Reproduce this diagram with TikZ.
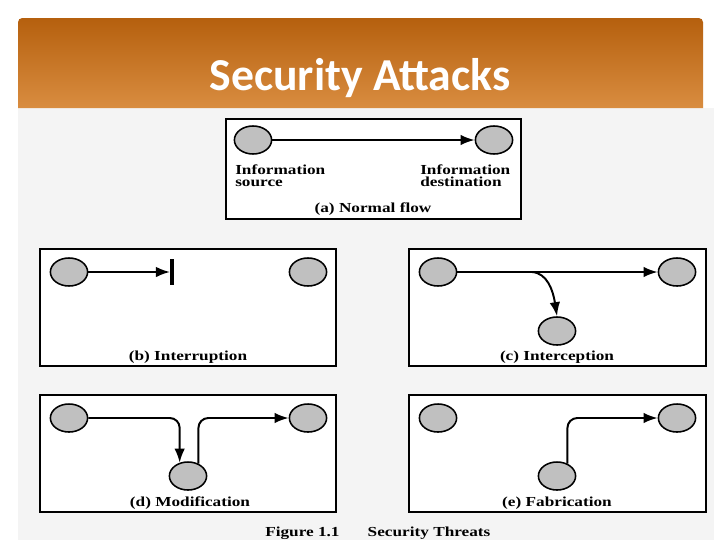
\documentclass[tikz,border=0pt]{standalone}
\usepackage{fontspec}
\setmainfont{Liberation Serif}
\newfontfamily\headfont{Carlito}
\newfontfamily\figfont[FakeStretch=1.25]{Liberation Serif}
\usetikzlibrary{arrows.meta,shapes.geometric}

\definecolor{hdtop}{HTML}{B5600E}
\definecolor{hdbot}{HTML}{D98D40}
\definecolor{slidegray}{HTML}{F4F4F4}
\definecolor{dotgray}{HTML}{C0C0C0}

\tikzset{
  station/.style={ellipse,draw,line width=1.1pt,fill=dotgray,
    minimum width=0.93cm,minimum height=0.7cm,inner sep=0pt},
  flow/.style={line width=1.4pt,-{Latex[length=10pt,width=7.5pt]}},
  panel/.style={draw,line width=1.3pt,fill=white},
  tag/.style={font=\figfont\bfseries\fontsize{9.8}{8.5}\selectfont,inner sep=0pt}
}

\begin{document}
\begin{tikzpicture}[x=0.025cm,y=-0.025cm]
  \useasboundingbox (0,0) rectangle (720,540);
  \fill[white] (0,0) rectangle (720,540);
  \fill[slidegray] (18,108) rectangle (714,540);
  \shade[top color=hdtop,bottom color=hdbot]
    (18,108) [rounded corners=3pt] -- (18,18) -- (703,18) [sharp corners] -- (703,108) -- cycle;
  \node[font=\headfont\bfseries\fontsize{32.5}{38}\selectfont,text=white,anchor=base]
    (title) at (360,90) {Security Attacks};

  % panels
  \draw[panel] (226,119) rectangle (521,219);
  \draw[panel] (40,249) rectangle (336,366);
  \draw[panel] (409,249) rectangle (706,366);
  \draw[panel] (40,395) rectangle (336,512);
  \draw[panel] (409,395) rectangle (706,512);

  % (a) normal flow
  \node[station] (srcA) at (253,140) {};
  \node[station] (dstA) at (494,140) {};
  \draw[flow] (srcA) -- (dstA);
  \node[tag,anchor=north west,align=left] (srcAtxt) at (235,165) {Information\\source};
  \node[tag,anchor=north west,align=left] (dstAtxt) at (420,165) {Information\\destination};
  \node[tag,anchor=base] (capA) at (373,212) {(a) Normal flow};

  % (b) interruption
  \node[station] (srcB) at (69,272) {};
  \node[station] (dstB) at (308,272) {};
  \coordinate (cutB) at (170,272);
  \draw[flow] (srcB) -- (cutB);
  \draw[line width=2.4pt] (172,259) -- (172,285);
  \node[tag,anchor=base] (capB) at (188,360) {(b) Interruption};

  % (c) interception
  \node[station] (srcC) at (438,272) {};
  \node[station] (dstC) at (677,272) {};
  \node[station] (spyC) at (557,331) {};
  \coordinate (tapC) at (532,272);
  \draw[flow] (srcC) -- (dstC);
  \draw[flow] (tapC) .. controls (547,273) and (553,290) .. (spyC.north);
  \node[tag,anchor=base] (capC) at (557,360) {(c) Interception};

  % (d) modification
  \node[station] (srcD) at (69,418) {};
  \node[station] (dstD) at (308,418) {};
  \node[station] (modD) at (188,476) {};
  \draw[flow,rounded corners=7pt] (srcD) -| (modD.122);
  \draw[flow,rounded corners=7pt] (modD.50) |- (dstD);
  \node[tag,anchor=base] (capD) at (190,506) {(d) Modification};

  % (e) fabrication
  \node[station] (srcE) at (438,418) {};
  \node[station] (dstE) at (677,418) {};
  \node[station] (fabE) at (557,476) {};
  \draw[flow,rounded corners=7pt] (fabE.50) |- (dstE);
  \node[tag,anchor=base] (capE) at (557,506) {(e) Fabrication};

  \node[tag,anchor=base west] (figcap) at (265,536) {Figure 1.1\hspace{20pt}Security Threats};
\end{tikzpicture}
\end{document}
